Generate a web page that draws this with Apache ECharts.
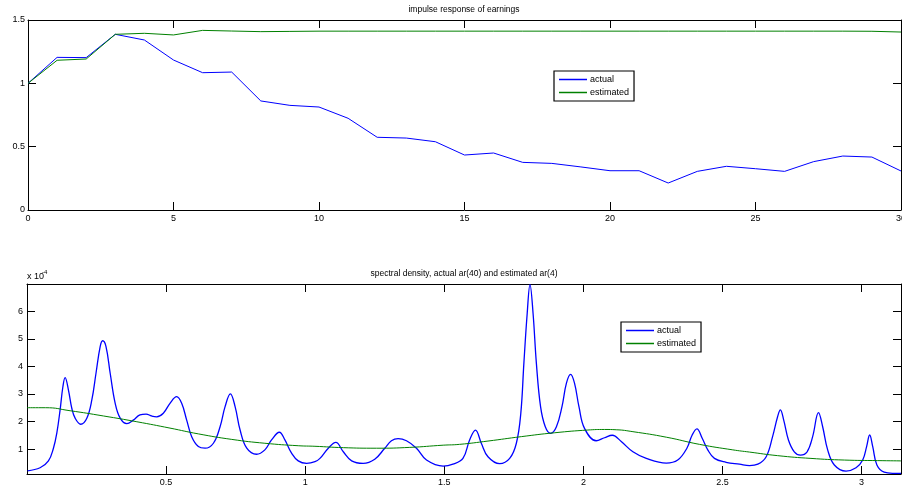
<!DOCTYPE html>
<html><head><meta charset="utf-8">
<script src="https://cdn.jsdelivr.net/npm/echarts@6/dist/echarts.min.js"></script>
<style>html,body{margin:0;padding:0;background:#fff}#c{width:902px;height:490px}</style>
</head><body><div id="c"></div>
<script>
// ---- top panel: impulse response ----
const lags = [0,1,2,3,4,5,6,7,8,9,10,11,12,13,14,15,16,17,18,19,20,21,22,23,24,25,26,27,28,29,30];
const impulseActual = [1.0,1.205,1.203,1.387,1.342,1.184,1.084,1.089,0.861,0.826,0.813,0.724,0.574,0.568,0.539,0.434,0.45,0.376,0.368,0.34,0.31,0.31,0.213,0.305,0.345,0.326,0.305,0.382,0.426,0.418,0.308];
const impulseEstimated = [1.0,1.182,1.192,1.387,1.395,1.382,1.418,1.413,1.408,1.41,1.412,1.412,1.412,1.412,1.412,1.412,1.412,1.412,1.412,1.412,1.412,1.412,1.412,1.412,1.412,1.412,1.412,1.412,1.412,1.411,1.405];
const topXTicks = [0,5,10,15,20,25,30];
const topYTicks = [0,0.5,1,1.5];

// ---- bottom panel: spectral density (units of 1e-4) ----
const freqActual = [0.002,0.047,0.077,0.095,0.107,0.119,0.129,0.137,0.149,0.161,0.173,0.193,0.215,0.233,0.248,0.263,0.272,0.284,0.299,0.317,0.335,0.359,0.382,0.406,0.428,0.448,0.466,0.49,0.514,0.538,0.556,0.574,0.592,0.616,0.64,0.67,0.694,0.712,0.731,0.748,0.766,0.79,0.825,0.855,0.879,0.907,0.927,0.951,0.975,1.005,1.035,1.053,1.083,1.11,1.137,1.167,1.208,1.25,1.286,1.31,1.334,1.364,1.4,1.436,1.496,1.531,1.567,1.591,1.612,1.633,1.657,1.699,1.735,1.759,1.775,1.786,1.798,1.808,1.819,1.831,1.846,1.863,1.882,1.903,1.923,1.939,1.954,1.968,1.984,2.004,2.046,2.076,2.104,2.136,2.178,2.226,2.298,2.339,2.372,2.391,2.408,2.427,2.447,2.471,2.513,2.561,2.597,2.627,2.657,2.68,2.698,2.708,2.72,2.737,2.758,2.78,2.804,2.824,2.845,2.86,2.878,2.902,2.944,2.98,3.004,3.018,3.029,3.04,3.055,3.081,3.111,3.1416];
const densActual = [0.21,0.32,0.57,1.03,1.57,2.42,3.26,3.59,3.14,2.48,2.12,1.9,2.12,2.78,3.75,4.72,4.93,4.72,3.75,2.66,2.12,1.92,2.05,2.24,2.27,2.2,2.17,2.3,2.66,2.9,2.66,2.05,1.45,1.09,1.03,1.21,1.81,2.54,3.0,2.54,1.69,1.03,0.81,0.97,1.33,1.61,1.33,0.85,0.57,0.48,0.54,0.66,1.03,1.24,0.9,0.57,0.48,0.63,1.03,1.3,1.38,1.3,1.03,0.6,0.38,0.45,0.66,1.33,1.69,1.21,0.72,0.47,0.66,1.21,2.3,4.11,5.93,6.97,5.93,4.11,2.54,1.81,1.57,1.81,2.54,3.39,3.71,3.39,2.54,1.75,1.3,1.41,1.5,1.27,0.9,0.66,0.49,0.6,1.03,1.51,1.73,1.39,0.97,0.66,0.52,0.45,0.4,0.45,0.72,1.45,2.17,2.42,2.05,1.33,0.9,0.78,0.9,1.45,2.32,1.81,0.97,0.42,0.2,0.32,0.6,1.09,1.51,1.09,0.42,0.16,0.12,0.12];
const freqEst = [0,0.066,0.155,0.275,0.395,0.514,0.616,0.736,0.855,0.975,1.035,1.137,1.256,1.376,1.496,1.555,1.657,1.777,1.896,2.016,2.076,2.118,2.178,2.298,2.417,2.537,2.597,2.698,2.818,2.938,3.058,3.1416];
const densEst = [2.5,2.5,2.39,2.2,1.99,1.76,1.55,1.35,1.21,1.12,1.1,1.05,1.03,1.06,1.14,1.17,1.29,1.45,1.59,1.69,1.71,1.7,1.63,1.43,1.17,0.97,0.89,0.76,0.66,0.6,0.58,0.57];
const botTicks = [0.5,1,1.5,2,2.5,3];
const botYTicks = [1,2,3,4,5,6];

const zip = (a,b) => a.map((v,i) => [v,b[i]]);

const FONT = 'Liberation Sans, Arial, sans-serif';
const lineAx = {show:true, onZero:false, lineStyle:{color:'#000', width:1}};
const tickAx = {show:true, inside:true, length:8, lineStyle:{color:'#000', width:1}};
const lab = {fontSize:9, color:'#000', fontFamily:FONT};
const legendBase = {orient:'vertical', data:['actual','estimated'], icon:'rect', itemWidth:28, itemHeight:1.5, itemGap:4,
  padding:[4,5,4,5], borderColor:'#000', borderWidth:1.2, backgroundColor:'#fff', selectedMode:false,
  textStyle:{fontSize:9, color:'#000', fontFamily:FONT, padding:[0,0,0,-2]}};

const chart = echarts.init(document.getElementById('c'), null, {renderer:'canvas'});
chart.setOption({
  animation:false,
  backgroundColor:'#fff',
  title:[
    {text:'impulse response of earnings', left:464, top:5, textAlign:'center', padding:0,
     textStyle:{fontSize:8.5, fontWeight:'normal', color:'#000', fontFamily:FONT}},
    {text:'spectral density, actual ar(40) and estimated ar(4)', left:464, top:269, textAlign:'center', padding:0,
     textStyle:{fontSize:8.5, fontWeight:'normal', color:'#000', fontFamily:FONT}}
  ],
  graphic:[
    {type:'text', left:27, top:272, style:{text:'x 10', fontSize:9, fill:'#000', fontFamily:FONT}},
    {type:'text', left:42, top:269, style:{text:'-4', fontSize:6, fill:'#000', fontFamily:FONT}}
  ],
  legend:[
    Object.assign({left:554, top:71}, legendBase),
    Object.assign({left:621, top:322}, legendBase)
  ],
  grid:[
    {left:28, right:1, top:20, height:190, outerBoundsMode:'none', containLabel:false},
    {left:27, right:1, top:284, height:190, outerBoundsMode:'none', containLabel:false}
  ],
  xAxis:[
    {gridIndex:0, type:'value', min:0, max:30, interval:5, position:'bottom',
     axisLine:lineAx, axisTick:tickAx, axisLabel:Object.assign({margin:4}, lab), splitLine:{show:false}},
    {gridIndex:0, type:'value', min:0, max:30, interval:5, position:'top',
     axisLine:lineAx, axisTick:tickAx, axisLabel:{show:false}, splitLine:{show:false}},
    {gridIndex:1, type:'value', min:0, max:Math.PI, position:'bottom',
     axisLine:lineAx, axisTick:Object.assign({customValues:botTicks}, tickAx),
     axisLabel:Object.assign({margin:4, customValues:botTicks}, lab), splitLine:{show:false}},
    {gridIndex:1, type:'value', min:0, max:Math.PI, position:'top',
     axisLine:lineAx, axisTick:Object.assign({customValues:botTicks}, tickAx),
     axisLabel:{show:false}, splitLine:{show:false}}
  ],
  yAxis:[
    {gridIndex:0, type:'value', min:0, max:1.5, interval:0.5, position:'left',
     axisLine:lineAx, axisTick:tickAx, axisLabel:Object.assign({margin:3}, lab), splitLine:{show:false}},
    {gridIndex:0, type:'value', min:0, max:1.5, interval:0.5, position:'right',
     axisLine:lineAx, axisTick:tickAx, axisLabel:{show:false}, splitLine:{show:false}},
    {gridIndex:1, type:'value', min:0.094, max:6.99, position:'left',
     axisLine:lineAx, axisTick:Object.assign({customValues:botYTicks}, tickAx),
     axisLabel:Object.assign({margin:4, customValues:botYTicks}, lab), splitLine:{show:false}},
    {gridIndex:1, type:'value', min:0.094, max:6.99, position:'right',
     axisLine:lineAx, axisTick:Object.assign({customValues:botYTicks}, tickAx),
     axisLabel:{show:false}, splitLine:{show:false}}
  ],
  series:[
    {name:'actual', type:'line', xAxisIndex:0, yAxisIndex:0, data:zip(lags, impulseActual),
     symbol:'none', lineStyle:{color:'#0000ff', width:1}, itemStyle:{color:'#0000ff'}},
    {name:'estimated', type:'line', xAxisIndex:0, yAxisIndex:0, data:zip(lags, impulseEstimated),
     symbol:'none', lineStyle:{color:'#008000', width:1}, itemStyle:{color:'#008000'}},
    {name:'actual', type:'line', xAxisIndex:2, yAxisIndex:2, data:zip(freqActual, densActual),
     symbol:'none', smooth:0.4, lineStyle:{color:'#0000ff', width:1.3}, itemStyle:{color:'#0000ff'}},
    {name:'estimated', type:'line', xAxisIndex:2, yAxisIndex:2, data:zip(freqEst, densEst),
     symbol:'none', smooth:0.5, lineStyle:{color:'#008000', width:1}, itemStyle:{color:'#008000'}}
  ]
});
</script></body></html>
